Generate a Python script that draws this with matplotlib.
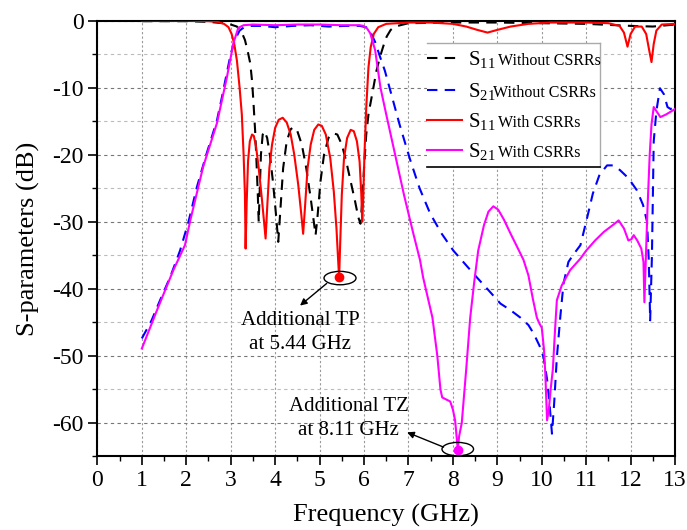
import matplotlib
matplotlib.use('Agg')
import matplotlib.pyplot as plt
from matplotlib.patches import Ellipse, Rectangle
from matplotlib.lines import Line2D
from matplotlib.ticker import MultipleLocator

plt.rcParams['font.family'] = ['Liberation Serif', 'DejaVu Serif']
plt.rcParams['mathtext.fontset'] = 'custom'
plt.rcParams['mathtext.rm'] = 'Liberation Serif'
plt.rcParams['mathtext.it'] = 'Liberation Serif:italic'
plt.rcParams['axes.unicode_minus'] = False

# ---------------- data (GHz, dB) ----------------
s11_wo_f = [1.0, 2.0, 2.5, 2.83, 3.0, 3.14, 3.25, 3.32, 3.38, 3.44, 3.48, 3.51, 3.55, 3.58,
            3.61, 3.63, 3.65, 3.68, 3.72, 3.76, 3.82, 3.88, 3.95, 4.02, 4.07, 4.12, 4.18,
            4.26, 4.35, 4.42, 4.5, 4.6, 4.7, 4.8, 4.87, 4.91, 4.95, 5.02, 5.1, 5.2, 5.3,
            5.4, 5.5, 5.6, 5.7, 5.8, 5.87, 5.92, 5.96, 6.0, 6.05, 6.1, 6.2, 6.28, 6.36,
            6.45, 6.51, 6.6, 6.7, 7.0, 8.0, 9.0, 10.0, 11.0, 12.0, 12.5, 13.0]
s11_wo_db = [-0.1, -0.1, -0.2, -0.4, -0.6, -0.9, -1.8, -2.9, -4.5, -6.4, -9.0, -12.0, -16.5, -21.0,
             -26.0, -30.0, -26.0, -20.0, -17.0, -16.5, -17.5, -20.0, -24.0, -29.0, -33.0, -28.0, -22.0,
             -18.0, -16.2, -15.9, -16.5, -18.5, -22.0, -26.5, -30.0, -32.0, -29.5, -24.0, -20.0, -17.5, -16.8,
             -17.0, -18.5, -21.0, -24.0, -27.0, -29.3, -30.3, -27.0, -22.0, -17.0, -14.0, -10.4, -7.5, -5.4,
             -3.5, -2.4, -1.4, -0.9, -0.4, -0.3, -0.3, -0.4, -0.5, -0.8, -0.9, -0.6]

s21_wo_f = [1.0, 1.22, 1.41, 1.64, 1.86, 2.05, 2.24, 2.45, 2.69, 2.8, 2.91, 3.0, 3.1, 3.2, 3.3,
            3.45, 3.7, 4.0, 4.4, 4.8, 5.2, 5.6, 5.9, 6.05, 6.15, 6.25, 6.36, 6.47, 6.59, 6.8,
            7.04, 7.25, 7.49, 7.75, 8.01, 8.3, 8.54, 8.8, 9.07, 9.3, 9.52, 9.7, 9.82, 9.95,
            10.04, 10.12, 10.18, 10.23, 10.28, 10.34, 10.42, 10.49, 10.6, 10.7, 10.87, 11.0,
            11.15, 11.3, 11.47, 11.6, 11.76, 11.95, 12.14, 12.28, 12.37, 12.41, 12.44, 12.48,
            12.52, 12.58, 12.66, 12.75, 12.83, 12.9, 13.0]
s21_wo_db = [-47.4, -44.7, -41.7, -38.2, -34.3, -30.0, -24.8, -20.0, -14.9, -11.5, -7.9, -5.0, -2.8, -1.5, -1.0,
             -0.8, -0.8, -1.0, -0.8, -0.7, -0.9, -0.8, -0.8, -1.0, -1.8, -3.2, -5.4, -7.5, -10.4, -15.5,
             -20.8, -25.0, -28.8, -31.8, -34.3, -36.5, -38.3, -40.2, -42.2, -43.2, -44.3, -45.4, -46.7, -48.5,
             -50.2, -53.5, -57.5, -61.6, -57.0, -50.2, -44.0, -39.2, -36.0, -35.0, -33.5, -30.0,
             -25.8, -23.0, -21.6, -21.6, -22.3, -23.5, -25.3, -27.5, -30.0, -36.0, -44.7, -35.0,
             -18.0, -13.5, -10.1, -11.0, -12.9, -13.2, -12.8]

s11_w_f = [1.0, 2.0, 2.5, 2.7, 2.85, 2.95, 3.02, 3.08, 3.14, 3.2, 3.25, 3.29, 3.32, 3.335,
           3.36, 3.39, 3.43, 3.48, 3.52, 3.57, 3.63, 3.7, 3.75, 3.785, 3.82, 3.87, 3.93,
           4.0, 4.08, 4.17, 4.26, 4.35, 4.43, 4.52, 4.59, 4.63, 4.67, 4.73, 4.8, 4.88,
           4.97, 5.05, 5.14, 5.24, 5.32, 5.38, 5.42, 5.44, 5.46, 5.5, 5.55, 5.62, 5.7,
           5.77, 5.84, 5.9, 5.94, 5.96, 5.98, 6.01, 6.05, 6.1, 6.15, 6.22, 6.32, 6.5,
           7.0, 7.5, 8.0, 8.3, 8.55, 8.78, 9.0, 9.3, 9.7, 10.2, 11.0, 11.5, 11.75, 11.85,
           11.93, 12.0, 12.1, 12.25, 12.35, 12.42, 12.47, 12.52, 12.58, 12.7, 13.0]
s11_w_db = [0.0, 0.0, -0.1, -0.2, -0.5, -1.0, -2.0, -3.5, -6.0, -10.0, -14.0, -20.0, -26.0, -34.0,
            -27.0, -21.0, -18.0, -17.0, -17.2, -18.8, -22.0, -26.5, -30.0, -32.5, -28.0, -22.0, -18.5,
            -16.0, -14.8, -14.5, -15.2, -17.0, -20.0, -24.5, -29.0, -31.8, -28.0, -22.0, -18.5, -16.3,
            -15.5, -15.7, -17.0, -20.5, -25.5, -31.0, -36.0, -38.3, -34.0, -26.0, -20.5, -17.5, -16.3,
            -16.5, -18.0, -21.0, -26.0, -30.0, -27.0, -20.0, -13.0, -7.0, -4.0, -2.0, -1.0, -0.5,
            -0.3, -0.3, -0.5, -0.9, -1.4, -1.8, -1.4, -0.9, -0.5, -0.3, -0.3, -0.4, -0.8, -1.8,
            -3.9, -2.0, -0.9, -0.9, -2.0, -4.5, -6.2, -3.5, -1.5, -0.6, -0.5]

s21_w_f = [1.0, 1.34, 1.71, 1.97, 2.09, 2.38, 2.69, 2.91, 3.0, 3.06, 3.17, 3.29, 3.5, 4.0,
           4.5, 5.0, 5.5, 5.9, 5.99, 6.07, 6.14, 6.25, 6.37, 6.5, 6.7, 6.9, 7.1, 7.26, 7.33,
           7.54, 7.65, 7.72, 7.76, 7.85, 7.94, 8.0, 8.05, 8.09, 8.11, 8.14, 8.2, 8.3, 8.39,
           8.48, 8.57, 8.7, 8.8, 8.91, 9.02, 9.15, 9.3, 9.45, 9.59, 9.7, 9.8, 9.89, 9.95,
           10.0, 10.05, 10.08, 10.12, 10.16, 10.2, 10.25, 10.3, 10.34, 10.45, 10.64, 10.87,
           11.0, 11.2, 11.4, 11.6, 11.73, 11.85, 11.95, 12.02, 12.07, 12.15, 12.24, 12.29,
           12.31, 12.34, 12.38, 12.43, 12.47, 12.52, 12.58, 12.67, 12.8, 13.0]
s21_w_db = [-48.9, -43.2, -37.2, -33.5, -29.8, -21.8, -15.3, -8.6, -5.5, -3.4, -1.1, -0.7, -0.6, -0.7,
            -0.6, -0.6, -0.7, -0.7, -0.8, -1.2, -1.9, -4.4, -10.0, -14.0, -20.0, -26.0, -31.5, -35.7, -38.3,
            -44.3, -50.0, -55.0, -56.2, -56.5, -56.8, -58.0, -59.6, -62.5, -64.0, -62.0, -60.0, -52.0, -44.3,
            -39.0, -34.3, -30.5, -28.5, -27.7, -28.2, -29.7, -31.8, -33.8, -35.7, -38.0, -41.5, -44.3, -45.2,
            -45.8, -49.0, -52.6, -59.6, -58.0, -55.0, -52.0, -46.0, -41.7, -39.5, -37.2, -35.5,
            -34.3, -32.8, -31.5, -30.5, -29.8, -31.0, -32.8, -32.6, -32.0, -32.8, -34.0, -36.0,
            -42.0, -36.0, -28.0, -20.0, -15.5, -12.9, -13.5, -14.4, -14.0, -13.2]

tp_freq, tp_db = 5.44, -38.3
tz_freq, tz_db = 8.11, -64.0

legend_subs = ['11', '21', '11', '21']
legend_words = ['Without CSRRs', 'Without CSRRs', 'With CSRRs', 'With CSRRs']

# ---------------- figure ----------------
fig = plt.figure(figsize=(6.87, 5.30), dpi=100)
ax = fig.add_axes([0.1418, 0.1387, 0.8408, 0.8226])

dash = (0, (5, 3.5))
ax.plot(s11_wo_f, s11_wo_db, color='black', ls=dash, lw=1.5, zorder=3)
ax.plot(s21_wo_f, s21_wo_db, color='#0000ff', ls=dash, lw=1.5, zorder=3)
ax.plot(s11_w_f, s11_w_db, color='#ff0000', lw=1.5, zorder=4)
ax.plot(s21_w_f, s21_w_db, color='#ff00ff', lw=1.5, zorder=4)

ax.plot([tp_freq], [tp_db], 'o', color='#ff0000', ms=6, zorder=5)
ax.plot([tz_freq], [tz_db], 'o', color='#ff00ff', ms=6, zorder=5)
ax.add_patch(Ellipse((tp_freq + 0.02, tp_db - 0.1), 0.72, 2.0, fill=False, ec='black', lw=1.0, zorder=5))
ax.add_patch(Ellipse((tz_freq, tz_db + 0.1), 0.71, 2.0, fill=False, ec='black', lw=1.0, zorder=5))

ax.annotate('', xy=(4.56, -42.5), xytext=(5.16, -39.2),
            arrowprops=dict(arrowstyle='-|>', color='black', lw=1.0, mutation_scale=10,
                            shrinkA=0, shrinkB=0), zorder=5)
ax.annotate('', xy=(6.97, -61.4), xytext=(7.79, -63.6),
            arrowprops=dict(arrowstyle='-|>', color='black', lw=1.0, mutation_scale=10,
                            shrinkA=0, shrinkB=0), zorder=5)
ax.text(4.57, -46.5, 'Additional TP\nat 5.44 GHz', ha='center', va='center',
        fontsize=15, linespacing=1.35, zorder=6)
ax.text(5.65, -59.4, 'Additional TZ\nat 8.11 GHz', ha='center', va='center',
        fontsize=15, linespacing=1.35, zorder=6)

ax.set_xlim(0, 13)
ax.set_ylim(-65, 0)
ax.xaxis.set_major_locator(MultipleLocator(1))
ax.xaxis.set_minor_locator(MultipleLocator(0.5))
ax.yaxis.set_major_locator(MultipleLocator(10))
ax.yaxis.set_minor_locator(MultipleLocator(5))
ax.tick_params(which='major', direction='out', length=6.5, width=1.2, labelsize=17,
               top=False, right=False)
ax.tick_params(which='minor', direction='out', length=3.5, width=1.0, top=False, right=False)

ax.set_axisbelow(True)
ax.grid(which='major', axis='y', ls=(0, (3, 3)), color='#777777', lw=0.8)
ax.grid(which='minor', axis='y', ls=(0, (3, 3)), color='#bbbbbb', lw=0.8)
ax.grid(which='major', axis='x', ls=(0, (2, 2)), color='#999999', lw=0.8)
for s in ax.spines.values():
    s.set_linewidth(1.5)

ax.set_xlabel('Frequency (GHz)', fontsize=19, labelpad=9)
ax.set_ylabel('S-parameters (dB)', fontsize=19, labelpad=9)

# ---------------- legend (manual) ----------------
T = ax.transAxes
x0, x1, y0, y1 = 0.570, 0.870, 0.665, 0.948
ax.add_patch(Rectangle((x0, y0), x1 - x0, y1 - y0, transform=T, fc='white', ec='none', zorder=7))
ax.add_line(Line2D([x0, x1], [y1, y1], transform=T, color='#aaaaaa', lw=1.0, zorder=8))
ax.add_line(Line2D([x1, x1], [y0, y1], transform=T, color='#aaaaaa', lw=1.0, zorder=8))
ax.add_line(Line2D([x0, x1], [y0, y0], transform=T, color='black', lw=1.2, zorder=8))
rows = [0.913, 0.841, 0.772, 0.703]
styles = [('black', dash), ('#0000ff', dash), ('#ff0000', '-'), ('#ff00ff', '-')]
word_x = [0.694, 0.685, 0.694, 0.694]
for r, (c, ls), sub, w, wx in zip(rows, styles, legend_subs, legend_words, word_x):
    ax.add_line(Line2D([0.5707, 0.6313], [r, r], transform=T, color=c, ls=ls, lw=1.5, zorder=8))
    ax.text(0.642, r - 0.016, 'S$_{' + sub + '}$', transform=T, fontsize=15,
            ha='left', va='baseline', zorder=9)
    ax.text(wx, r - 0.016, w, transform=T, fontsize=11.5, ha='left', va='baseline', zorder=9)

fig.savefig('out.png', dpi=100)
